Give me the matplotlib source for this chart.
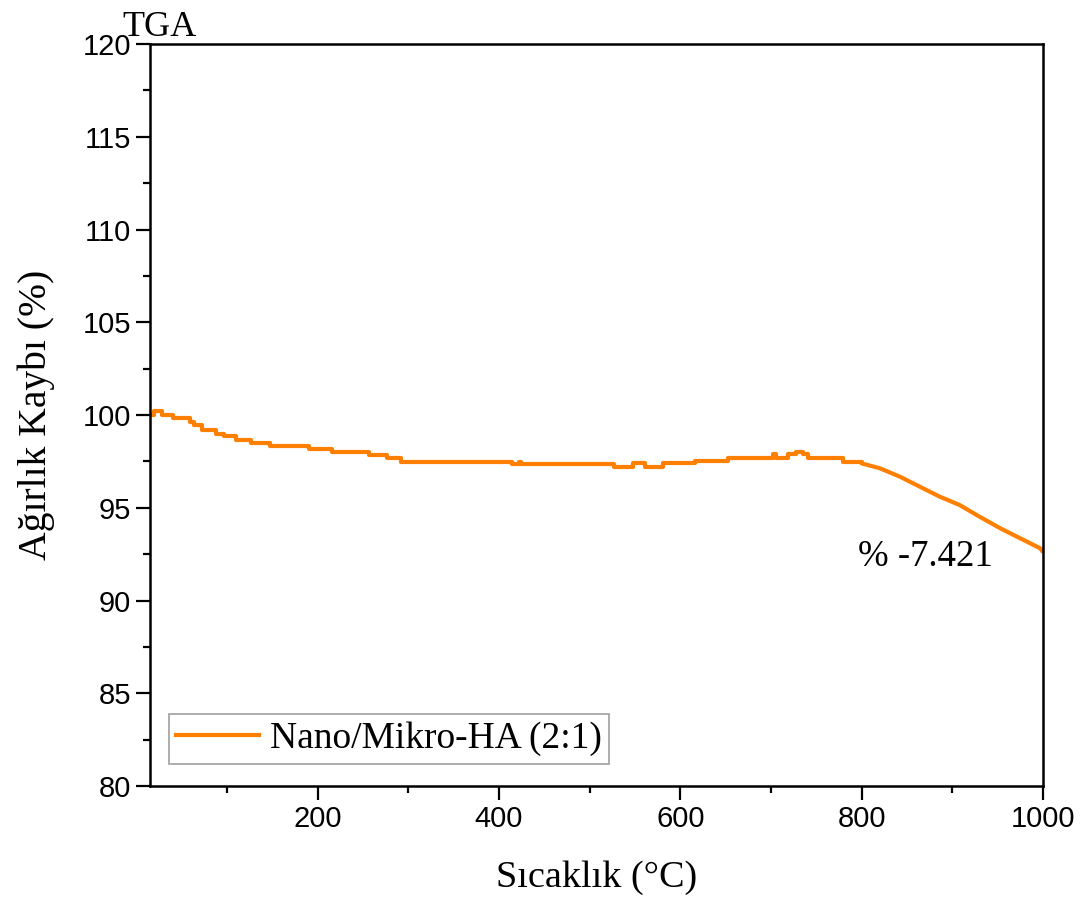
import matplotlib
matplotlib.use('Agg')
import matplotlib.pyplot as plt
from matplotlib.ticker import MultipleLocator

# TGA data (temperature in C, mass in %)
# stepped plateau region
temp = [15, 20, 28, 40, 55, 59, 64, 72, 88, 97, 110, 127, 147, 191, 216, 257, 276, 292,
        414, 422, 424, 527, 548, 561, 581, 616, 653, 702, 706, 719, 728, 735, 741,
        779, 800]
mass = [100.0, 100.2, 100.02, 99.84, 99.84, 99.64, 99.46, 99.2, 99.0, 98.87, 98.65, 98.47,
        98.35, 98.15, 97.99, 97.84, 97.66, 97.48,
        97.36, 97.48, 97.36, 97.18, 97.39, 97.18, 97.39, 97.52, 97.70, 97.88, 97.66,
        97.88, 98.02, 97.88, 97.66,
        97.48, 97.39]
# decomposition region above 800 C
temp_hi = [800, 820, 842, 864, 886, 908, 930, 953, 975, 997, 1000]
mass_hi = [97.39, 97.13, 96.68, 96.14, 95.6, 95.15, 94.52, 93.89, 93.35, 92.81, 92.6]

series_name = 'Nano/Mikro-HA (2:1)'
loss_text = '% -7.421'
serif = ['Liberation Serif', 'DejaVu Serif']
orange = '#ff8000'

plt.rcParams['font.family'] = ['Liberation Sans', 'DejaVu Sans']

fig = plt.figure(figsize=(10.86, 9.11), dpi=100)
ax = fig.add_axes([0.138, 0.1372, 0.8224, 0.8145])

ax.plot(temp, mass, color=orange, lw=3, drawstyle='steps-post', label=series_name)
ax.plot(temp_hi, mass_hi, color=orange, lw=3, solid_capstyle='butt')

ax.set_xlim(15, 1000)
ax.set_ylim(80, 120)
ax.xaxis.set_major_locator(MultipleLocator(200))
ax.xaxis.set_minor_locator(MultipleLocator(100))
ax.yaxis.set_major_locator(MultipleLocator(5))
ax.yaxis.set_minor_locator(MultipleLocator(2.5))
ax.tick_params(which='major', direction='out', length=10, width=1.6, labelsize=21)
ax.tick_params(which='minor', direction='out', length=5, width=1.6)
for s in ax.spines.values():
    s.set_linewidth(1.8)

ax.set_xlabel('Sıcaklık (°C)', family=serif, fontsize=27.5, labelpad=20)
ax.set_ylabel('Ağırlık Kaybı (%)', family=serif, fontsize=28.5, labelpad=20)

ax.text(796, 92.35, loss_text, family=serif, fontsize=26.5, va='center', ha='left')
fig.text(0.113, 0.9605, 'TGA', family=serif, fontsize=26)

leg = ax.legend(loc='lower left', bbox_to_anchor=(0.021, 0.03), prop={'family': serif, 'size': 27},
                frameon=True, fancybox=False, handlelength=2.2, handletextpad=0.3,
                borderpad=0.2, borderaxespad=0)
leg.get_frame().set_edgecolor('#888888')
leg.get_frame().set_linewidth(1.2)

fig.savefig('out.png', dpi=100)
